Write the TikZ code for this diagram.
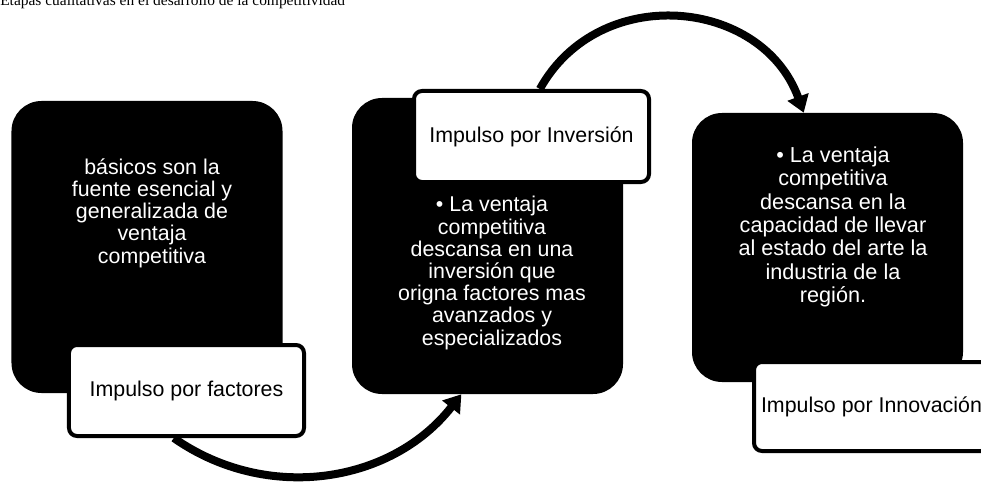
\documentclass[tikz,border=0pt]{standalone}
\usepackage{fontspec}
\setmainfont{Liberation Sans}
\newfontfamily\titlefont{Liberation Serif}
\usetikzlibrary{arrows.meta,positioning,backgrounds}
\tikzset{
  >={Triangle[length=4.2mm,width=5.4mm]},
  stage/.style={fill=black,rounded corners=7.5mm,inner sep=0pt,
    minimum width=67.75mm,minimum height=#1},
  stage/.default=74mm,
  stagetext/.style={text=white,align=center,font=\fontsize{15.2}{15.8}\selectfont},
  impulse/.style={draw=black,fill=white,line width=1mm,rounded corners=2mm,
    inner sep=0pt,minimum width=58.75mm,minimum height=22.75mm,
    font=\fontsize{15.2}{18}\selectfont},
  cycle arrow/.style={->,line width=2mm,draw=black},
}
\begin{document}
\begin{tikzpicture}[x=0.25mm,y=0.25mm]
  \useasboundingbox (0,0) rectangle (981,483);
  \clip (0,0) rectangle (981,483);
  \node[font=\titlefont\fontsize{11}{13}\selectfont,anchor=base west,inner sep=0pt]
    (title) at (0,477) {Etapas cualitativas en el desarrollo de la competitividad};
  % stages
  \node[stage=73mm] (box1) at (147,236) {};
  \node[stage=74mm] (box2) at (487.5,237) {};
  \node[stage=67.25mm] (box3) at (827.5,235.5) {};
  \node[stagetext] (txt1) at (152,270)
    {básicos son la\\fuente esencial y\\generalizada de\\ventaja\\competitiva};
  \node[stagetext] (txt2) at (492,210)
    {• La ventaja\\competitiva\\descansa en una\\inversión que\\origna factores mas\\avanzados y\\especializados};
  \node[stagetext,font=\fontsize{15.4}{16.6}\selectfont] (txt3) at (833,256)
    {• La ventaja\\competitiva\\descansa en la\\capacidad de llevar\\al estado del arte la\\industria de la\\región.};
  % impulse labels
  \node[impulse] (imp1) at (186.5,92.5) {Impulso por factores};
  \node[impulse] (imp2) at (531.5,346.5) {Impulso por Inversión};
  \node[impulse,minimum height=22.25mm] (imp3) at (871.5,76.5) {Impulso por Innovación};
  \begin{scope}[on background layer]
    \draw[cycle arrow] (imp1.-105) to[out=-35,in=-128] (box2.-100);
    \draw[cycle arrow] (imp2.80) to[out=61,in=110,looseness=1.18] (box3.100);
  \end{scope}
\end{tikzpicture}
\end{document}
